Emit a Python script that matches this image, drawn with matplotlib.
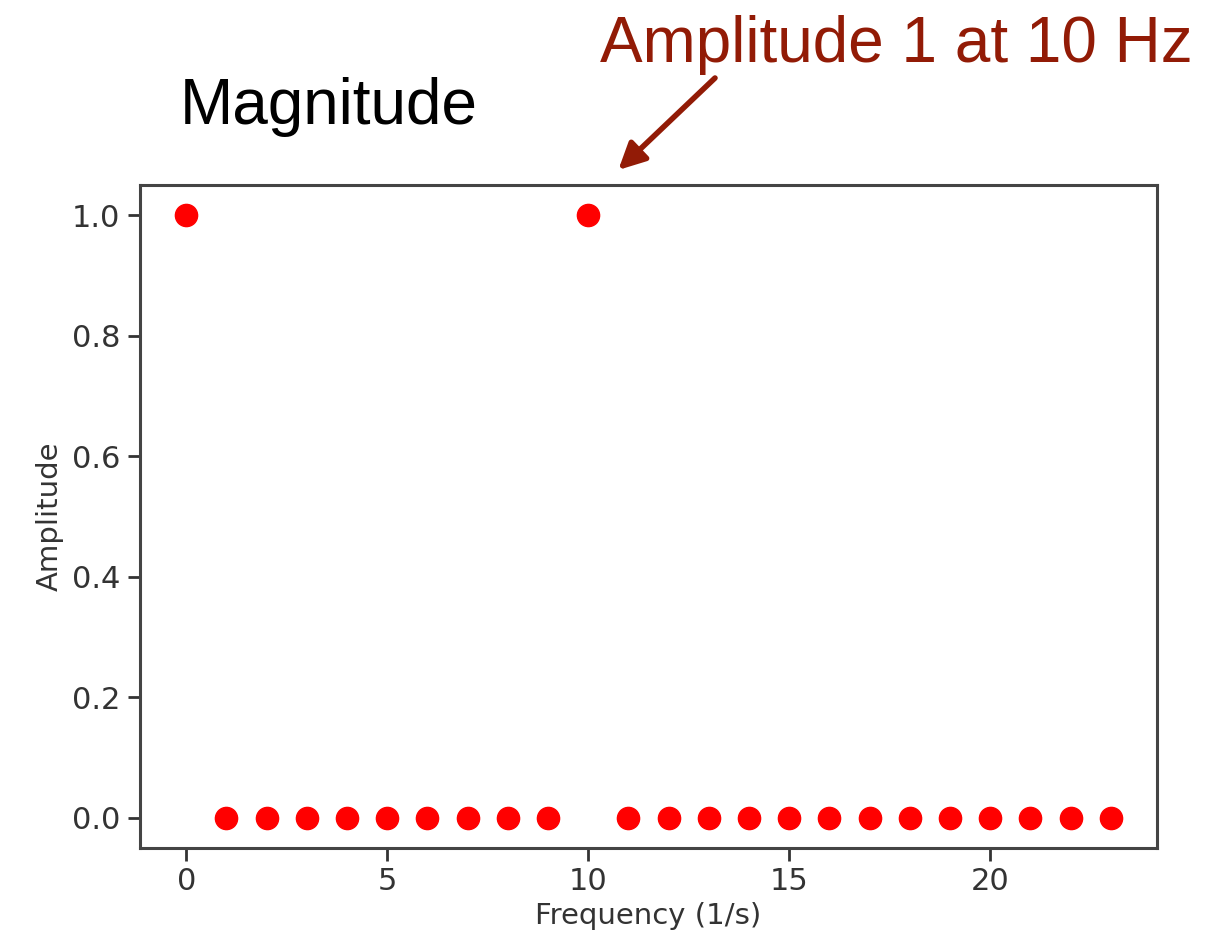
import numpy as np
import matplotlib.pyplot as plt

# spectrum
freq = np.arange(0, 24)
amp = np.zeros(24)
amp[0] = 1.0
amp[10] = 1.0

fig = plt.figure(figsize=(12.11, 9.42), dpi=100)
ax = fig.add_axes([0.1156, 0.0998, 0.8398, 0.7038])

ax.plot(freq, amp, 'o', color='red', markersize=16)

ax.set_xticks([0, 5, 10, 15, 20])
ax.set_yticks([0.0, 0.2, 0.4, 0.6, 0.8, 1.0])
ax.tick_params(labelsize=22, length=9, width=2, colors='#333333', pad=5)
ax.set_xlabel('Frequency (1/s)', fontsize=21, color='#333333', labelpad=4)
ax.set_ylabel('Amplitude', fontsize=21, color='#333333', labelpad=6)
for s in ax.spines.values():
    s.set_linewidth(2.2)
    s.set_color('#444444')

fig.text(180/1211, 1 - 107/942, 'Magnitude', fontsize=46, family='Liberation Sans',
         va='center', ha='left', color='black')
fig.text(1193/1211, 1 - 45/942, 'Amplitude 1 at 10 Hz', fontsize=46, family='Liberation Sans',
         va='center', ha='right', color='#921B06')
ax.annotate('', xy=(10.75, 1.075), xycoords='data',
            xytext=(715/1211, 1 - 78/942), textcoords='figure fraction',
            arrowprops=dict(arrowstyle='-|>', color='#921B06', lw=4,
                            mutation_scale=40, shrinkA=0, shrinkB=0),
            annotation_clip=False)

fig.savefig('out.png', dpi=100)
